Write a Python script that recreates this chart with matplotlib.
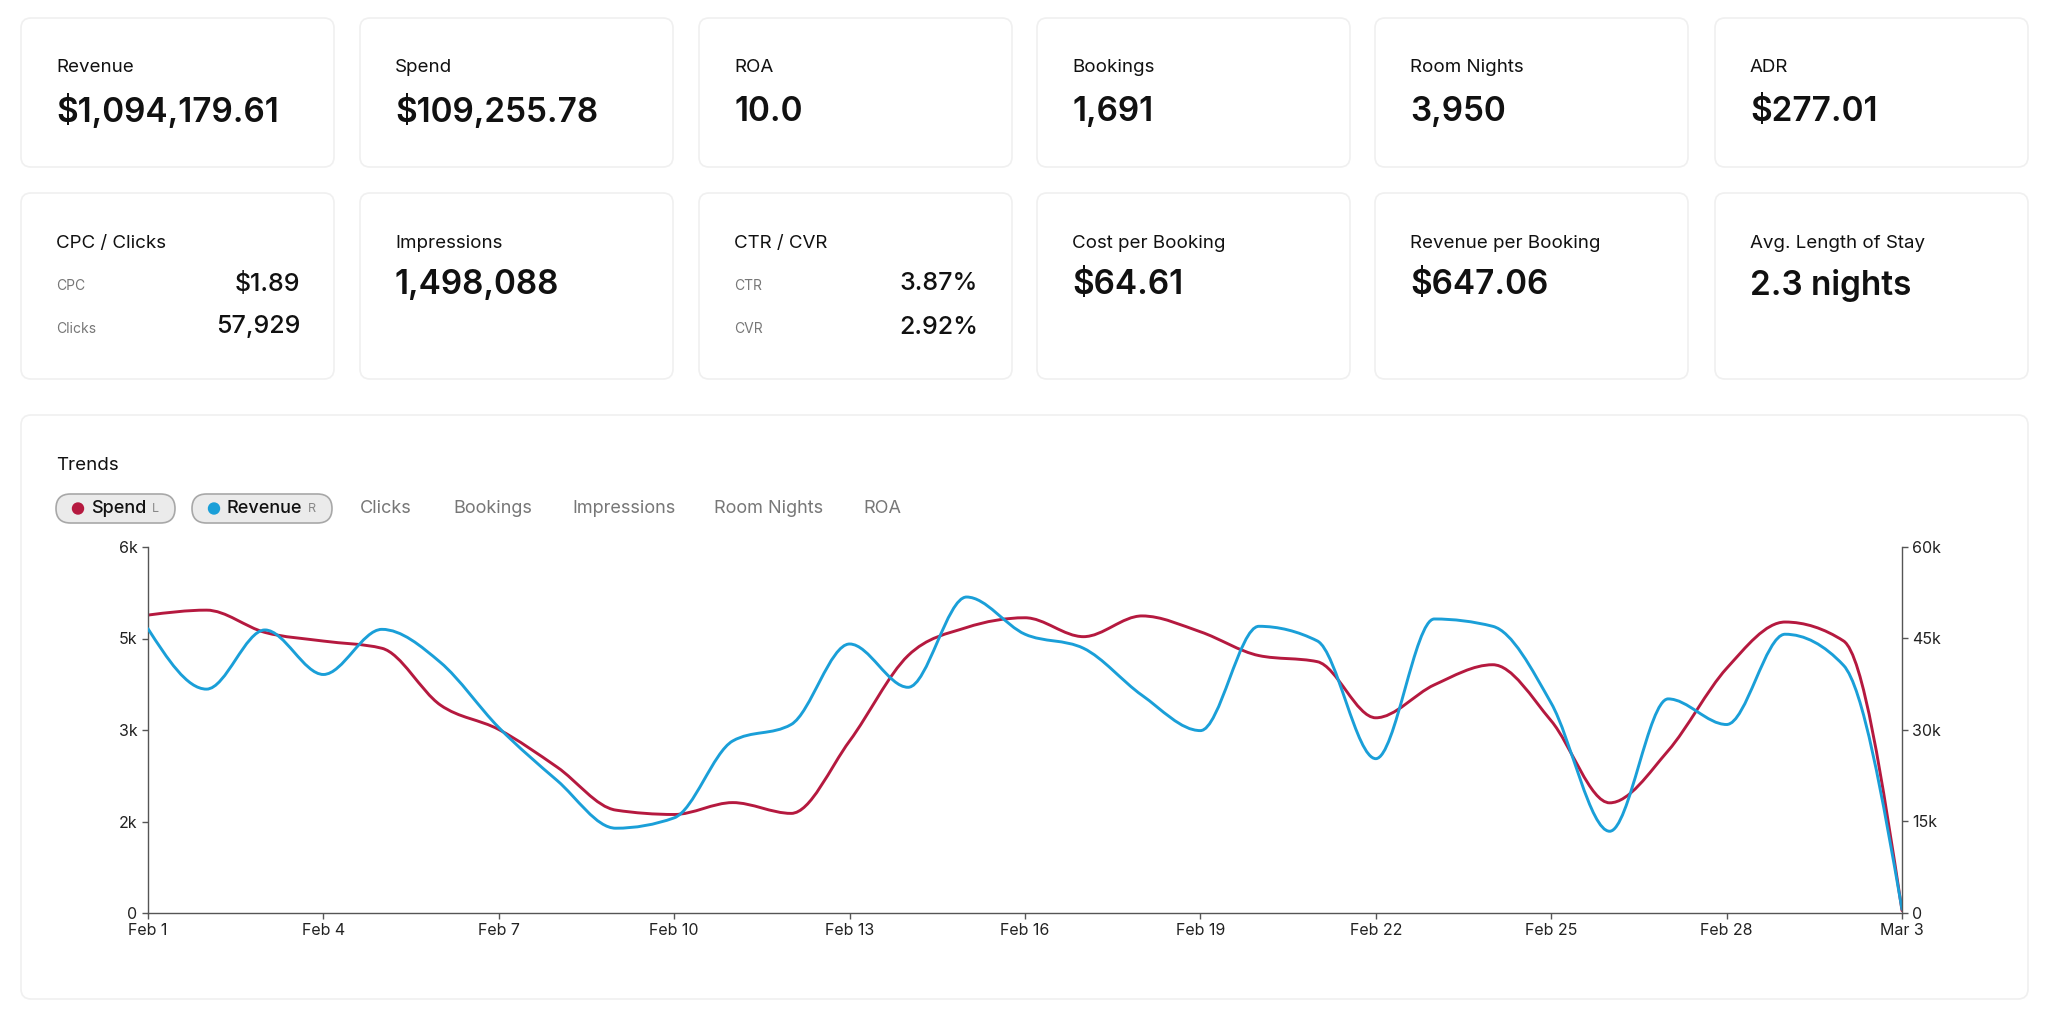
import numpy as np
import pandas as pd
import matplotlib
matplotlib.use('Agg')
import matplotlib.pyplot as plt
import matplotlib.dates as mdates
from matplotlib.patches import FancyBboxPatch, PathPatch, Circle
from matplotlib.path import Path

plt.rcParams['font.family'] = ['Inter', 'DejaVu Sans']

# --- data ---
row1_labels = ["Revenue", "Spend", "ROA", "Bookings", "Room Nights", "ADR"]
row1_values = ["$1,094,179.61", "$109,255.78", "10.0", "1,691", "3,950", "$277.01"]
row2_labels = ["CPC / Clicks", "Impressions", "CTR / CVR", "Cost per Booking",
               "Revenue per Booking", "Avg. Length of Stay"]
row2_values = [None, "1,498,088", None, "$64.61", "$647.06", "2.3 nights"]
row2_subs = {0: [("CPC", "$1.89"), ("Clicks", "57,929")],
             2: [("CTR", "3.87%"), ("CVR", "2.92%")]}

metric_tabs = ["Clicks", "Bookings", "Impressions", "Room Nights", "ROA"]

dates = pd.date_range("2025-02-01", "2025-03-03", freq="D")
spend = [4884, 4965, 4600, 4458, 4340, 3410, 3008, 2390, 1687, 1615,
         1810, 1633, 2820, 4220, 4680, 4840, 4530, 4870, 4610, 4220,
         4120, 3200, 3740, 4070, 3150, 1806, 2660, 4010, 4770, 4460, 40]
revenue = [46600, 36700, 46400, 39100, 46500, 41100, 30400, 21700, 13900, 15600,
           28200, 30900, 44100, 37000, 51800, 45700, 43400, 35700, 29900, 47000,
           44600, 25300, 48200, 47000, 34400, 13400, 35100, 30900, 45700, 40600, 600]

left_ticks = [0, 1500, 3000, 4500, 6000]
left_labels = ["0", "2k", "3k", "5k", "6k"]
right_ticks = [0, 15000, 30000, 45000, 60000]
right_labels = ["0", "15k", "30k", "45k", "60k"]

RED = "#b5193f"
BLUE = "#1a9fd8"


def monotone_path(x, y):
    # monotone cubic (like d3 curveMonotoneX) as bezier segments
    x = np.asarray(x, float)
    y = np.asarray(y, float)
    n = len(x)
    h = np.diff(x)
    s = np.diff(y) / h
    m = np.zeros(n)
    for i in range(1, n - 1):
        p = (s[i - 1] * h[i] + s[i] * h[i - 1]) / (h[i - 1] + h[i])
        m[i] = (np.sign(s[i - 1]) + np.sign(s[i])) * min(abs(s[i - 1]), abs(s[i]), 0.5 * abs(p))
    m[0] = (3 * s[0] - m[1]) / 2
    m[-1] = (3 * s[-1] - m[-2]) / 2
    verts = [(x[0], y[0])]
    codes = [Path.MOVETO]
    for i in range(n - 1):
        d = h[i] / 3
        verts += [(x[i] + d, y[i] + m[i] * d), (x[i + 1] - d, y[i + 1] - m[i + 1] * d), (x[i + 1], y[i + 1])]
        codes += [Path.CURVE4] * 3
    return Path(verts, codes)


W, H = 2048, 1017
fig = plt.figure(figsize=(W / 100, H / 100), dpi=100)
fig.patch.set_facecolor("white")

bg = fig.add_axes([0, 0, 1, 1])
bg.set_xlim(0, W)
bg.set_ylim(H, 0)
bg.axis("off")


def card(x, y, w, h):
    bg.add_patch(FancyBboxPatch((x, y), w, h, boxstyle="round,pad=0,rounding_size=10",
                                facecolor="white", edgecolor="#f0f0f0", lw=1.2))


card_x = [21, 360, 699, 1037, 1375, 1715]
card_w = 313

# row 1
for i, cx in enumerate(card_x):
    card(cx, 18, card_w, 149)
    bg.text(cx + 35, 68, row1_labels[i], fontsize=13.5, color="#111111", va="center")
    bg.text(cx + 35, 112, row1_values[i], fontsize=24, color="#111111", va="center",
            fontweight="semibold")

# row 2
for i, cx in enumerate(card_x):
    card(cx, 193, card_w, 186)
    bg.text(cx + 35, 243, row2_labels[i], fontsize=13.5, color="#111111", va="center")
    if i in row2_subs:
        for j, (lab, val) in enumerate(row2_subs[i]):
            yy = 286 + j * 43
            bg.text(cx + 35, yy, lab, fontsize=10, color="#777777", va="center")
            bg.text(cx + 279, yy - 2, val, fontsize=18, color="#111111", va="center",
                    ha="right", fontweight="medium")
    else:
        bg.text(cx + 35, 285, row2_values[i], fontsize=24, color="#111111", va="center",
                fontweight="semibold")

# trends panel
card(21, 415, 2007, 584)
bg.text(56, 465, "Trends", fontsize=13.5, color="#111111", va="center")

# pills
pills = [("Spend", "L", RED, 56, 175), ("Revenue", "R", BLUE, 192, 332)]
for name, side, col, x0, x1 in pills:
    bg.add_patch(FancyBboxPatch((x0, 494), x1 - x0, 29, boxstyle="round,pad=0,rounding_size=14.5",
                                facecolor="#ebebeb", edgecolor="#a8a8a8", lw=1.2))
    bg.add_patch(Circle((x0 + 22, 508.5), 5.5, color=col))
    bg.text(x0 + 35, 508.5, name, fontsize=13, color="#111111", va="center", fontweight="medium")
    bg.text(x1 - 20, 508.5, side, fontsize=9, color="#888888", va="center", ha="center")

tab_x = [360, 453, 572, 714, 863]
for lab, tx in zip(metric_tabs, tab_x):
    bg.text(tx, 508.5, lab, fontsize=13, color="#777777", va="center")

# chart
ax = fig.add_axes([148 / W, 1 - 913 / H, (1902 - 148) / W, (913 - 547) / H])
ax.patch.set_alpha(0)
ax2 = ax.twinx()

xnum = mdates.date2num(dates)
ax.xaxis_date()
ax.set_xlim(xnum[0], xnum[-1])
ax.set_ylim(0, 6000)
ax2.set_ylim(0, 60000)

ax.add_patch(PathPatch(monotone_path(xnum, spend), facecolor="none", edgecolor=RED,
                       lw=2.1, capstyle="round", joinstyle="round"))
ax2.add_patch(PathPatch(monotone_path(xnum, revenue), facecolor="none", edgecolor=BLUE,
                        lw=2.1, capstyle="round", joinstyle="round"))

ax.set_xticks(xnum[::3])
ax.xaxis.set_major_formatter(mdates.DateFormatter("%b %-d"))
ax.set_yticks(left_ticks)
ax.set_yticklabels(left_labels)
ax2.set_yticks(right_ticks)
ax2.set_yticklabels(right_labels)

for a in (ax, ax2):
    for sp in a.spines.values():
        sp.set_color("#555555")
        sp.set_linewidth(1.0)
    a.spines["top"].set_visible(False)
    a.tick_params(colors="#555555", labelcolor="#222222", labelsize=11.5, length=4.5,
                  width=1.0, pad=3)
ax.spines["right"].set_visible(False)
ax2.spines["left"].set_visible(False)
ax2.spines["bottom"].set_visible(False)

fig.savefig("out.png", dpi=100, facecolor="white")
